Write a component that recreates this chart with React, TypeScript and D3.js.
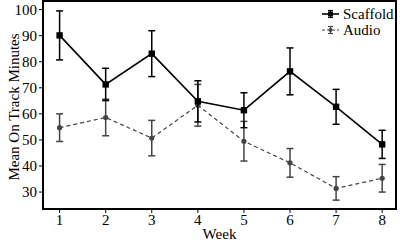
import React, { useRef, useEffect } from "react";
import * as d3 from "d3";

const weeks = [1, 2, 3, 4, 5, 6, 7, 8];
const scaffoldMeans = [90.1, 71.3, 83.1, 64.8, 61.4, 76.3, 62.7, 48.3];
const scaffoldErr = [9.4, 6.2, 8.8, 7.9, 6.7, 9.0, 6.7, 5.4];
const audioMeans = [54.7, 58.6, 50.7, 63.3, 49.5, 41.2, 31.4, 35.3];
const audioErr = [5.3, 7.0, 6.8, 8.0, 7.6, 5.5, 4.5, 5.3];
const yTicks = [30, 40, 50, 60, 70, 80, 90, 100];

const W = 400;
const H = 242;
const FONT = "'Liberation Serif', 'Times New Roman', serif";

const App = () => {
  const svgRef = useRef<SVGSVGElement>(null);

  useEffect(() => {
    const svg = d3.select(svgRef.current);
    svg.selectAll("*").remove();

    const margin = { top: 1, right: 4, bottom: 33, left: 43 };
    const width = W - margin.left - margin.right;
    const height = H - margin.top - margin.bottom;

    const g = svg.append("g").attr("transform", `translate(${margin.left},${margin.top})`);

    const x = d3.scaleLinear().domain([0.64, 8.3]).range([0, width]);
    const y = d3.scaleLinear().domain([23.5, 103.3]).range([height, 0]);

    const series = [
      { name: "Scaffold", means: scaffoldMeans, err: scaffoldErr, color: "#000", dash: null, marker: "square", width: 1.6 },
      { name: "Audio", means: audioMeans, err: audioErr, color: "#444", dash: "4,3", marker: "circle", width: 1.2 },
    ];

    // draw audio first so scaffold sits on top
    [...series].reverse().forEach(s => {
      const pts = weeks.map((w, i) => ({ w, m: s.means[i], e: s.err[i] }));
      const line = d3.line<any>().x(d => x(d.w)).y(d => y(d.m));

      g.append("path")
        .datum(pts)
        .attr("d", line)
        .attr("fill", "none")
        .attr("stroke", s.color)
        .attr("stroke-width", s.width)
        .attr("stroke-dasharray", s.dash);

      const eb = g.append("g").attr("stroke", s.color).attr("stroke-width", 1.5);
      pts.forEach(d => {
        const cx = x(d.w);
        eb.append("line").attr("x1", cx).attr("x2", cx).attr("y1", y(d.m - d.e)).attr("y2", y(d.m + d.e));
        [d.m - d.e, d.m + d.e].forEach(v => {
          eb.append("line").attr("x1", cx - 3.5).attr("x2", cx + 3.5).attr("y1", y(v)).attr("y2", y(v));
        });
      });

      if (s.marker === "square") {
        g.selectAll(null).data(pts).join("rect")
          .attr("x", d => x(d.w) - 3.2).attr("y", d => y(d.m) - 3.2)
          .attr("width", 6.4).attr("height", 6.4).attr("fill", s.color);
      } else {
        g.selectAll(null).data(pts).join("circle")
          .attr("cx", d => x(d.w)).attr("cy", d => y(d.m))
          .attr("r", 2.6).attr("fill", s.color);
      }
    });

    // frame
    g.append("rect")
      .attr("x", 0).attr("y", 0).attr("width", width).attr("height", height)
      .attr("fill", "none").attr("stroke", "#000").attr("stroke-width", 2);

    // small outward ticks
    g.selectAll(null).data(yTicks).join("line")
      .attr("x1", -4).attr("x2", 0).attr("y1", d => y(d)).attr("y2", d => y(d))
      .attr("stroke", "#000").attr("stroke-width", 1);
    g.selectAll(null).data(weeks).join("line")
      .attr("x1", d => x(d)).attr("x2", d => x(d)).attr("y1", height).attr("y2", height + 4)
      .attr("stroke", "#000").attr("stroke-width", 1);

    // y tick labels
    g.selectAll(null).data(yTicks).join("text")
      .attr("x", -6).attr("y", d => y(d)).attr("dy", "0.35em")
      .attr("text-anchor", "end")
      .attr("font-family", FONT).attr("font-size", 15).attr("fill", "#000")
      .text(d => d);

    // x tick labels
    g.selectAll(null).data(weeks).join("text")
      .attr("x", d => x(d)).attr("y", height + 16)
      .attr("text-anchor", "middle")
      .attr("font-family", FONT).attr("font-size", 15).attr("fill", "#000")
      .text(d => d);

    // axis titles
    svg.append("text")
      .attr("x", margin.left + width / 2).attr("y", H - 3)
      .attr("text-anchor", "middle")
      .attr("font-family", FONT).attr("font-size", 15).attr("fill", "#000")
      .text("Week");

    svg.append("text")
      .attr("transform", `translate(19,${margin.top + height / 2 + 2}) rotate(-90)`)
      .attr("text-anchor", "middle")
      .attr("font-family", FONT).attr("font-size", 15).attr("fill", "#000")
      .text("Mean On Track Minutes");

    // legend
    const legend = svg.append("g").attr("transform", "translate(322,14)");
    series.forEach((s, i) => {
      const row = legend.append("g").attr("transform", `translate(0,${i * 16})`);
      row.append("line").attr("x1", 0).attr("x2", 17).attr("y1", 0).attr("y2", 0)
        .attr("stroke", s.color).attr("stroke-width", s.width).attr("stroke-dasharray", s.dash ? "3,2" : null);
      row.append("line").attr("x1", 8.5).attr("x2", 8.5).attr("y1", -3.5).attr("y2", 3.5)
        .attr("stroke", s.color).attr("stroke-width", 1.2);
      [-3.5, 3.5].forEach(v => {
        row.append("line").attr("x1", 6).attr("x2", 11).attr("y1", v).attr("y2", v)
          .attr("stroke", s.color).attr("stroke-width", 1.2);
      });
      if (s.marker === "square") {
        row.append("rect").attr("x", 6).attr("y", -2.5).attr("width", 5).attr("height", 5).attr("fill", s.color);
      } else {
        row.append("circle").attr("cx", 8.5).attr("cy", 0).attr("r", 2).attr("fill", s.color);
      }
      row.append("text")
        .attr("x", 21).attr("y", 0).attr("dy", "0.35em")
        .attr("font-family", FONT).attr("font-size", 15).attr("fill", "#000")
        .text(s.name);
    });
  }, []);

  return (
    <svg
      ref={svgRef}
      width={W}
      height={H}
      style={{ position: "absolute", left: 0, top: 0, background: "#fff" }}
    />
  );
};

export default App;
